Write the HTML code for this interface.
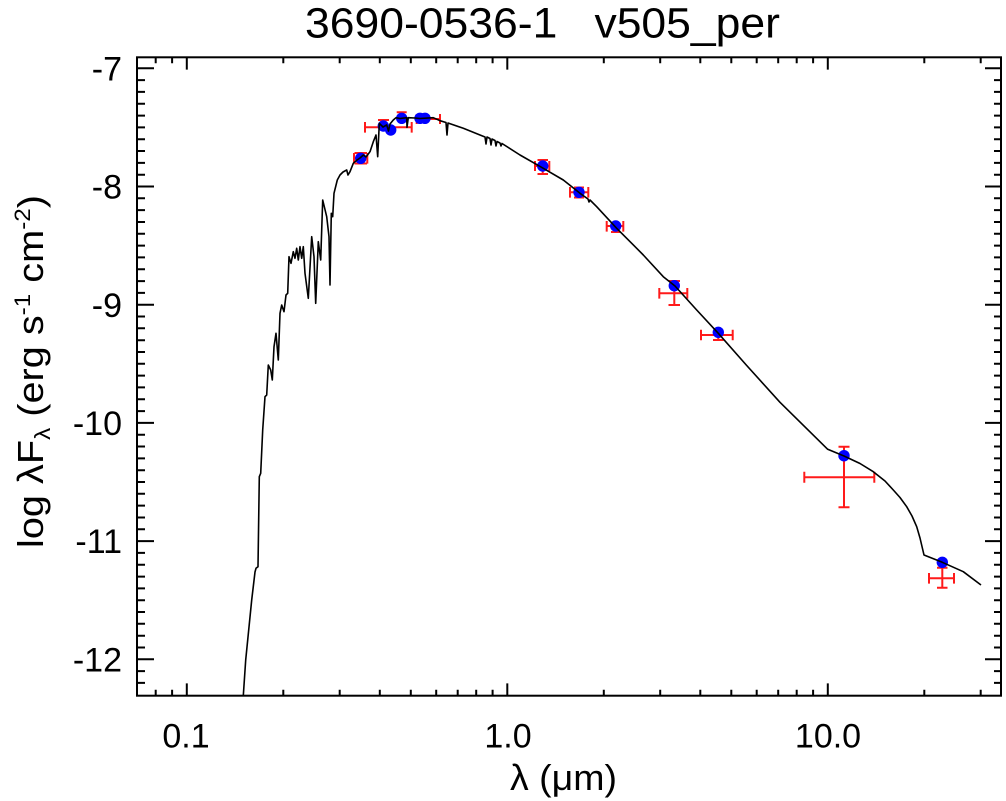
<!DOCTYPE html>
<html>
<head>
<meta charset="utf-8">
<style>
html,body{margin:0;padding:0;background:#fff;}
svg{display:block;}
text{font-family:"Liberation Sans","DejaVu Sans",sans-serif;fill:#000;}
</style>
</head>
<body>
<svg width="1006" height="801" viewBox="0 0 1006 801" xmlns="http://www.w3.org/2000/svg">
<rect x="0" y="0" width="1006" height="801" fill="#fff"/>

<!-- Title -->
<text x="305" y="37.5" font-size="43" textLength="475" lengthAdjust="spacingAndGlyphs" xml:space="preserve">3690-0536-1   v505_per</text>

<!-- Axes box -->
<rect x="137" y="57.3" width="864" height="638.4" fill="none" stroke="#000" stroke-width="2"/>

<!-- X ticks (bottom & top) -->
<g stroke="#000" stroke-width="2">
<path d="M186.8,695.7v-12.3M507.3,695.7v-12.3M827.8,695.7v-12.3
M186.8,57.3v12.3M507.3,57.3v12.3M827.8,57.3v12.3"/>
<path d="M155.7,695.7v-6M172.1,695.7v-6M283.3,695.7v-6M339.7,695.7v-6M379.8,695.7v-6M410.8,695.7v-6M436.2,695.7v-6M457.7,695.7v-6M476.2,695.7v-6M492.6,695.7v-6
M603.8,695.7v-6M660.2,695.7v-6M700.3,695.7v-6M731.3,695.7v-6M756.7,695.7v-6M778.2,695.7v-6M796.7,695.7v-6M813.1,695.7v-6M924.3,695.7v-6M980.7,695.7v-6"/>
<path d="M155.7,57.3v6M172.1,57.3v6M283.3,57.3v6M339.7,57.3v6M379.8,57.3v6M410.8,57.3v6M436.2,57.3v6M457.7,57.3v6M476.2,57.3v6M492.6,57.3v6
M603.8,57.3v6M660.2,57.3v6M700.3,57.3v6M731.3,57.3v6M756.7,57.3v6M778.2,57.3v6M796.7,57.3v6M813.1,57.3v6M924.3,57.3v6M980.7,57.3v6"/>
</g>

<!-- Y ticks (left & right) -->
<g stroke="#000" stroke-width="2">
<path d="M137,68.3h17M137,186.5h17M137,304.7h17M137,422.9h17M137,541.1h17M137,659.3h17
M1001,68.3h-16M1001,186.5h-16M1001,304.7h-16M1001,422.9h-16M1001,541.1h-16M1001,659.3h-16"/>
<path d="
M137,80.1h8M137,91.9h8M137,103.8h8M137,115.6h8M137,127.4h8M137,139.2h8M137,151.0h8M137,162.9h8M137,174.7h8
M137,198.3h8M137,210.1h8M137,222.0h8M137,233.8h8M137,245.6h8M137,257.4h8M137,269.2h8M137,281.1h8M137,292.9h8
M137,316.5h8M137,328.3h8M137,340.2h8M137,352.0h8M137,363.8h8M137,375.6h8M137,387.4h8M137,399.3h8M137,411.1h8
M137,434.7h8M137,446.5h8M137,458.4h8M137,470.2h8M137,482.0h8M137,493.8h8M137,505.6h8M137,517.5h8M137,529.3h8
M137,552.9h8M137,564.7h8M137,576.6h8M137,588.4h8M137,600.2h8M137,612.0h8M137,623.8h8M137,635.7h8M137,647.5h8
M137,671.1h8M137,682.9h8
M1001,80.1h-7M1001,91.9h-7M1001,103.8h-7M1001,115.6h-7M1001,127.4h-7M1001,139.2h-7M1001,151.0h-7M1001,162.9h-7M1001,174.7h-7
M1001,198.3h-7M1001,210.1h-7M1001,222.0h-7M1001,233.8h-7M1001,245.6h-7M1001,257.4h-7M1001,269.2h-7M1001,281.1h-7M1001,292.9h-7
M1001,316.5h-7M1001,328.3h-7M1001,340.2h-7M1001,352.0h-7M1001,363.8h-7M1001,375.6h-7M1001,387.4h-7M1001,399.3h-7M1001,411.1h-7
M1001,434.7h-7M1001,446.5h-7M1001,458.4h-7M1001,470.2h-7M1001,482.0h-7M1001,493.8h-7M1001,505.6h-7M1001,517.5h-7M1001,529.3h-7
M1001,552.9h-7M1001,564.7h-7M1001,576.6h-7M1001,588.4h-7M1001,600.2h-7M1001,612.0h-7M1001,623.8h-7M1001,635.7h-7M1001,647.5h-7
M1001,671.1h-7M1001,682.9h-7"/>
</g>

<!-- Y tick labels -->
<g font-size="34" text-anchor="end">
<text x="122" y="80.5">-7</text>
<text x="122" y="198.5">-8</text>
<text x="122" y="317">-9</text>
<text x="122" y="435">-10</text>
<text x="122" y="553.2">-11</text>
<text x="122" y="671.5">-12</text>
</g>

<!-- X tick labels -->
<g font-size="34" text-anchor="middle">
<text x="186" y="747.5">0.1</text>
<text x="508" y="747.5">1.0</text>
<text x="828" y="747.5">10.0</text>
</g>

<!-- X axis label -->
<text x="510" y="790" font-size="36" textLength="107" lengthAdjust="spacingAndGlyphs">λ (μm)</text>

<!-- Y axis label -->
<text transform="translate(43,548) rotate(-90)" font-size="36" textLength="353" lengthAdjust="spacingAndGlyphs">log λF<tspan font-size="22" dy="7">λ</tspan><tspan dy="-7"> (erg s</tspan><tspan font-size="22" dy="-13">-1</tspan><tspan dy="13"> cm</tspan><tspan font-size="22" dy="-13">-2</tspan><tspan dy="13">)</tspan></text>

<!-- Error bars -->
<g stroke="#ff1a1a" stroke-width="2" fill="none">
<path d="M354,158.3H367.3M354,153v10.6M367.3,153v10.6M360.7,153V163.5M354.5,153H367M354.5,163.5H367"/>
<path d="M365,127.3H411.7M365,122v10.6M411.7,122v10.6"/>
<path d="M383.3,120V130M378,120H389"/>
<path d="M401.7,112.3V124M396.7,112.3H406.7"/>
<path d="M416.7,119H440M416.7,114v10M440,114v10"/>
<path d="M535,166H549.3M535,161v10M549.3,161v10M542.7,160V174M537.5,160H548M537.5,174H548"/>
<path d="M570,192.3H588.3M570,187v10.6M588.3,187v10.6M579,187.5V197.5M574,187.5H584M574,197.5H584"/>
<path d="M606.7,226H623.3M606.7,221v10.6M623.3,221v10.6M615.7,221V232M611,232H620.5"/>
<path d="M659.3,293.3H687.3M659.3,288v10.6M687.3,288v10.6M674.3,281V305M668.5,305H680M668.5,281H680"/>
<path d="M701,335H732.7M701,329.7v10.6M732.7,329.7v10.6M718.3,327V340M713,340H723.5"/>
<path d="M804.3,477.3H874.3M804.3,471.8v11M874.3,471.8v11M844,446.7V507.3M838.5,446.7H849.5M838.5,507.3H849.5"/>
<path d="M929,578.3H954M929,573v10.6M954,573v10.6M942.3,567.7V587.7M937,567.7H947.5M937,587.7H947.5"/>
</g>

<!-- Blue points -->
<g fill="#0000ff">
<circle cx="360.7" cy="158.3" r="5.7"/>
<circle cx="383.3" cy="126" r="5.7"/>
<circle cx="390.7" cy="130" r="5.7"/>
<circle cx="401.7" cy="118.3" r="5.7"/>
<circle cx="420" cy="118.3" r="5.7"/>
<circle cx="425" cy="118.3" r="5.7"/>
<circle cx="542.7" cy="166" r="5.7"/>
<circle cx="579" cy="192.3" r="5.7"/>
<circle cx="615.7" cy="226" r="5.7"/>
<circle cx="674.3" cy="285.7" r="5.7"/>
<circle cx="718.3" cy="332.3" r="5.7"/>
<circle cx="844" cy="455.7" r="5.7"/>
<circle cx="942.3" cy="562.3" r="5.7"/>
</g>

<!-- Model curve -->
<path fill="none" stroke="#000" stroke-width="1.6" stroke-linejoin="round" d="M243.3,695.7 L245.7,660 L251.7,600 L255,572 L256,568.3 L258,566.7 L259.3,476.7 L260.7,473.3 L262.7,430 L265,396.7 L266.7,395 L268.3,365 L270.7,370 L272.3,380 L274,346.7 L276,333.3 L278.3,360 L280,313.3 L281.7,305 L284,311.7 L286,295 L287.7,293.3 L289,256.7 L291,263.3 L293.3,251.7 L295,258.3 L296.7,248.3 L298.3,260 L300,246.7 L301.7,258.3 L303.3,246.7 L305,273.3 L308.3,298.3 L311.7,236.7 L314,256.7 L315.7,303.3 L318.3,241.7 L320.7,260 L322.7,200 L326.7,216.7 L329,236.7 L330,285 L331.3,213.3 L332.7,216.7 L334,193.3 L337.3,180 L340,175 L343,172 L346.7,170 L348,175 L350,171.7 L353.3,163.3 L357,160 L360,158 L363.3,155 L366,157 L370,151.7 L373.3,141.7 L376,135 L377.7,156.7 L379.3,123.3 L383,127 L386.7,125 L388.5,131 L390,124 L393.3,120 L396,117.7 L400,118.5 L406.7,117.7 L407,127.3 L408.3,117.7 L415,118 L420,118.5 L433.3,117.7 L440,120.7 L446,122.5 L447,135 L448,123 L463.3,128.3 L480,135 L485,137 L486,144 L487,137 L490,138.5 L491,145 L492,139 L495,140.5 L496,146 L497,141.5 L500,143 L501,146 L502,143.5 L520,155 L543.3,168.3 L563.3,180 L580,193.3 L588,199 L589,202 L590,200 L596.7,206.7 L616.7,228.3 L643.3,255 L663.3,276.7 L675,286 L696.7,310 L718.3,333.3 L746.7,365.5 L780,402.3 L827.7,449.3 L844,456 L860,463.5 L873.3,471.7 L885,481 L893.3,490 L900,497.5 L906.7,506.7 L912,516 L916.7,526.7 L920,538 L924,555 L942.3,562.3 L963.3,571.7 L981,585"/>
</svg>
</body>
</html>
